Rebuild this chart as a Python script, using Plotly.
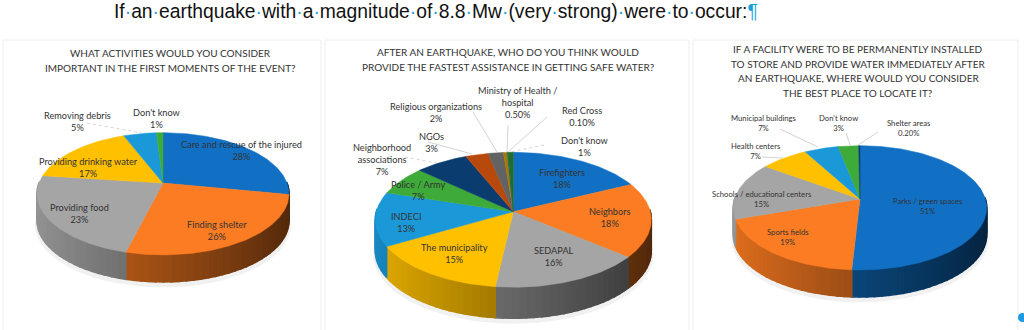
import numpy as np
import plotly.graph_objects as go

MAIN_TITLE_WORDS = ["If", "an", "earthquake", "with", "a", "magnitude", "of", "8.8", "Mw", "(very", "strong)", "were", "to", "occur:"]

# Chart 1
p1_title = ["WHAT ACTIVITIES WOULD YOU CONSIDER", "IMPORTANT IN THE FIRST MOMENTS OF THE EVENT?"]
p1_names = ["Care and rescue of the injured", "Finding shelter", "Providing food", "Providing drinking water", "Removing debris", "Don't know"]
p1_pct = ["28%", "26%", "23%", "17%", "5%", "1%"]
p1_values = [28, 26, 23, 17, 5, 1]

# Chart 2
p2_title = ["AFTER AN EARTHQUAKE, WHO DO YOU THINK WOULD", "PROVIDE THE FASTEST ASSISTANCE IN GETTING SAFE WATER?"]
p2_names = ["Firefighters", "Neighbors", "SEDAPAL", "The municipality", "INDECI", "Police / Army",
            "Neighborhood<br>associations", "NGOs", "Religious organizations", "Ministry of Health /<br>hospital", "Red Cross", "Don't know"]
p2_pct = ["18%", "18%", "16%", "15%", "13%", "7%", "7%", "3%", "2%", "0.50%", "0.10%", "1%"]
p2_values = [18, 18, 16, 15, 13, 7, 7, 3, 2, 0.5, 0.1, 0.7]  # slice sizes as drawn

# Chart 3
p3_title = ["IF A FACILITY WERE TO BE PERMANENTLY INSTALLED", "TO STORE AND PROVIDE WATER IMMEDIATELY AFTER",
            "AN EARTHQUAKE, WHERE WOULD YOU CONSIDER", "THE BEST PLACE TO LOCATE IT?"]
p3_names = ["Parks / green spaces", "Sports fields", "Schools / educational centers", "Health centers", "Municipal buildings", "Don't know", "Shelter areas"]
p3_pct = ["51%", "19%", "15%", "7%", "7%", "3%", "0.20%"]
p3_values = [51, 19, 15, 7, 5, 3, 0.2]  # slice sizes as drawn

C3 = ["#1170C4", "#FB7C22", "#A5A5A5", "#FFC000", "#1B98D8", "#3EAA3A"]
p1_colors = C3
p2_colors = C3 + ["#0A3C70", "#B8490D", "#636363", "#A67A00", "#2A5E9A", "#1F6E2A"]
p3_colors = C3 + ["#0A3C70"]

W, H = 1024, 330
TEXT = "#333333"
FONT = "Lato"

# cx, cy = slice apex; rx, ry, k = perspective ellipse; depth = wall height
PIES = [
    dict(v=p1_values, c=p1_colors, cx=163.0, cy=183.0, rx=124.0, ry=59.2, k=0.177, depth=27),
    dict(v=p2_values, c=p2_colors, cx=513.3, cy=211.7, rx=137.0, ry=66.5, k=0.120, depth=31),
    dict(v=p3_values, c=p3_colors, cx=860.0, cy=199.0, rx=125.4, ry=60.9, k=0.142, depth=27),
]

# label centres
P1_POS = [(241, 151), (217, 231), (79, 213), (88, 167), (77, 121), (157, 118)]
P2_POS = [(562, 178), (610, 217.5), (554, 256), (454, 253.7), (405.7, 222), (418, 190),
          (382, 159), (431, 142.7), (435.7, 112.5), (517.7, 102.7), (582, 116), (584.7, 146)]
P3_POS = [(928, 206), (787.7, 236.7), (762, 198.5), (756, 151), (764, 122.7), (838, 122.5), (909, 128)]

LEADERS = [
    ((87, 123), (142, 133), "dot"),
    ((405, 157), (437, 163), "dot"), ((428, 142), (472, 154), "solid"), ((473, 112), (497, 152), "solid"),
    ((508, 125), (507, 152), "solid"), ((547, 117), (508, 152), "solid"), ((544, 145), (510, 152), "dot"),
    ((780, 129), (818, 147), "solid"), ((762, 157), (783, 158), "solid"),
    ((846, 133), (850, 145), "solid"), ((878, 132), (858, 145), "solid"),
]
PANELS = [(3, 40, 321, 332), (325, 40, 689, 332), (693, 40, 1018, 332)]


def project(theta, p):
    u, v = np.sin(theta), np.cos(theta)
    w = 1 + p["k"] * v
    return p["rx"] * u / w, p["ry"] * v / w


def shade(color, f):
    r, g, b = int(color[1:3], 16), int(color[3:5], 16), int(color[5:7], 16)
    return f"rgb({int(r*f)},{int(g*f)},{int(b*f)})"


fig = go.Figure()
HALF = 170

for i, p in enumerate(PIES):
    sfx = "" if i == 0 else str(i + 1)
    xa, ya = "x" + sfx, "y" + sfx
    vals = np.array(p["v"], float)
    edges = np.concatenate([[0], np.cumsum(vals)]) / vals.sum() * 2 * np.pi

    # soft shadow
    t = np.linspace(0, 2 * np.pi, 121)
    sx, sy = project(t, p)
    fig.add_trace(go.Scatter(x=sx * 1.015, y=sy * 1.02 - p["depth"] - 4, mode="lines", fill="toself",
                             fillcolor="#f1f1f1", line=dict(width=0), xaxis=xa, yaxis=ya, hoverinfo="skip"))

    # side wall: vertical bands, each drawn with a stroke as wide as the seam
    for j, col in enumerate(p["c"]):
        n = max(2, int(np.degrees(edges[j + 1] - edges[j]) / 3) + 1)
        ts = np.linspace(edges[j], edges[j + 1], n + 1)
        for a, b in zip(ts[:-1], ts[1:]):
            if np.cos((a + b) / 2) > 0.02:
                continue
            mid_x = np.sin((a + b) / 2)
            f = 0.9 - 0.58 * (mid_x + 1) / 2
            seg = np.linspace(a, b, 4)
            x0, y0 = project(seg, p)
            xs = np.concatenate([x0, x0[::-1], x0[:1]])
            ys = np.concatenate([y0, y0[::-1] - p["depth"], y0[:1]])
            fig.add_trace(go.Scatter(x=xs, y=ys, mode="lines", fill="toself", fillcolor=shade(col, f),
                                     line=dict(width=1.6, color=shade(col, f)), xaxis=xa, yaxis=ya, hoverinfo="skip"))

    # top face
    for j, col in enumerate(p["c"]):
        n = max(2, int(np.degrees(edges[j + 1] - edges[j])) + 1)
        ts = np.linspace(edges[j], edges[j + 1], n + 1)
        x0, y0 = project(ts, p)
        xs = np.concatenate([[0], x0, [0]])
        ys = np.concatenate([[0], y0, [0]])
        fig.add_trace(go.Scatter(x=xs, y=ys, mode="lines", fill="toself", fillcolor=col,
                                 line=dict(width=0.5, color=col), xaxis=xa, yaxis=ya, hoverinfo="skip"))

layout_axes = {}
for i, p in enumerate(PIES):
    sfx = "" if i == 0 else str(i + 1)
    left = max(p["cx"] - HALF, 0)
    right = min(p["cx"] + HALF, W)
    layout_axes["xaxis" + sfx] = dict(domain=[left / W, right / W], range=[left - p["cx"], right - p["cx"]],
                                      visible=False, fixedrange=True)
    layout_axes["yaxis" + sfx] = dict(domain=[0, 1], range=[p["cy"] - H, p["cy"]], visible=False, fixedrange=True)


def px(x):
    return x / W


def py(y):
    return 1 - y / H


annos = []


def add_text(x, y, text, size, color=TEXT, family=FONT):
    annos.append(dict(x=px(x), y=py(y), xref="paper", yref="paper", text=text, showarrow=False,
                      xanchor="center", yanchor="middle", align="center",
                      font=dict(family=family, size=size, color=color)))


dot = '<span style="color:#19A0D8">·</span>'
main = dot.join(MAIN_TITLE_WORDS) + '<span style="color:#19A0D8">¶</span>'
add_text(435.5, 11.5, main, 19.3, color="#111111", family="Liberation Sans")

for line, y in zip(p1_title, (53, 68)):
    add_text(170, y, line, 10)
for line, y in zip(p2_title, (52, 67)):
    add_text(508, y, line, 10)
for line, y in zip(p3_title, (49, 63.7, 78, 93)):
    add_text(858, y, line, 10)

for names, pct, pos, size in ((p1_names, p1_pct, P1_POS, 9.2), (p2_names, p2_pct, P2_POS, 9.2), (p3_names, p3_pct, P3_POS, 7.7)):
    for n, v, (x, y) in zip(names, pct, pos):
        add_text(x, y, f"{n}<br>{v}", size)

shapes = []
for x0, y0, x1, y1 in PANELS:
    shapes.append(dict(type="rect", xref="paper", yref="paper", x0=px(x0), x1=px(x1), y0=py(y0), y1=py(y1),
                       line=dict(color="#eeeeee", width=1), layer="below"))
for (x0, y0), (x1, y1), dash in LEADERS:
    shapes.append(dict(type="line", xref="paper", yref="paper", x0=px(x0), x1=px(x1), y0=py(y0), y1=py(y1),
                       line=dict(color="#c8c8c8", width=0.8, dash=dash)))
shapes.append(dict(type="circle", xref="paper", yref="paper", x0=px(1018), x1=px(1027), y0=py(322), y1=py(313),
                   fillcolor="#1E9BE0", line=dict(width=0)))

fig.update_layout(width=W, height=H, margin=dict(l=0, r=0, t=0, b=0), showlegend=False,
                  paper_bgcolor="white", plot_bgcolor="rgba(0,0,0,0)", hovermode=False,
                  annotations=annos, shapes=shapes, **layout_axes)
fig.write_html("out.html", config=dict(displayModeBar=False),
               post_script="document.body.style.margin='0';")
